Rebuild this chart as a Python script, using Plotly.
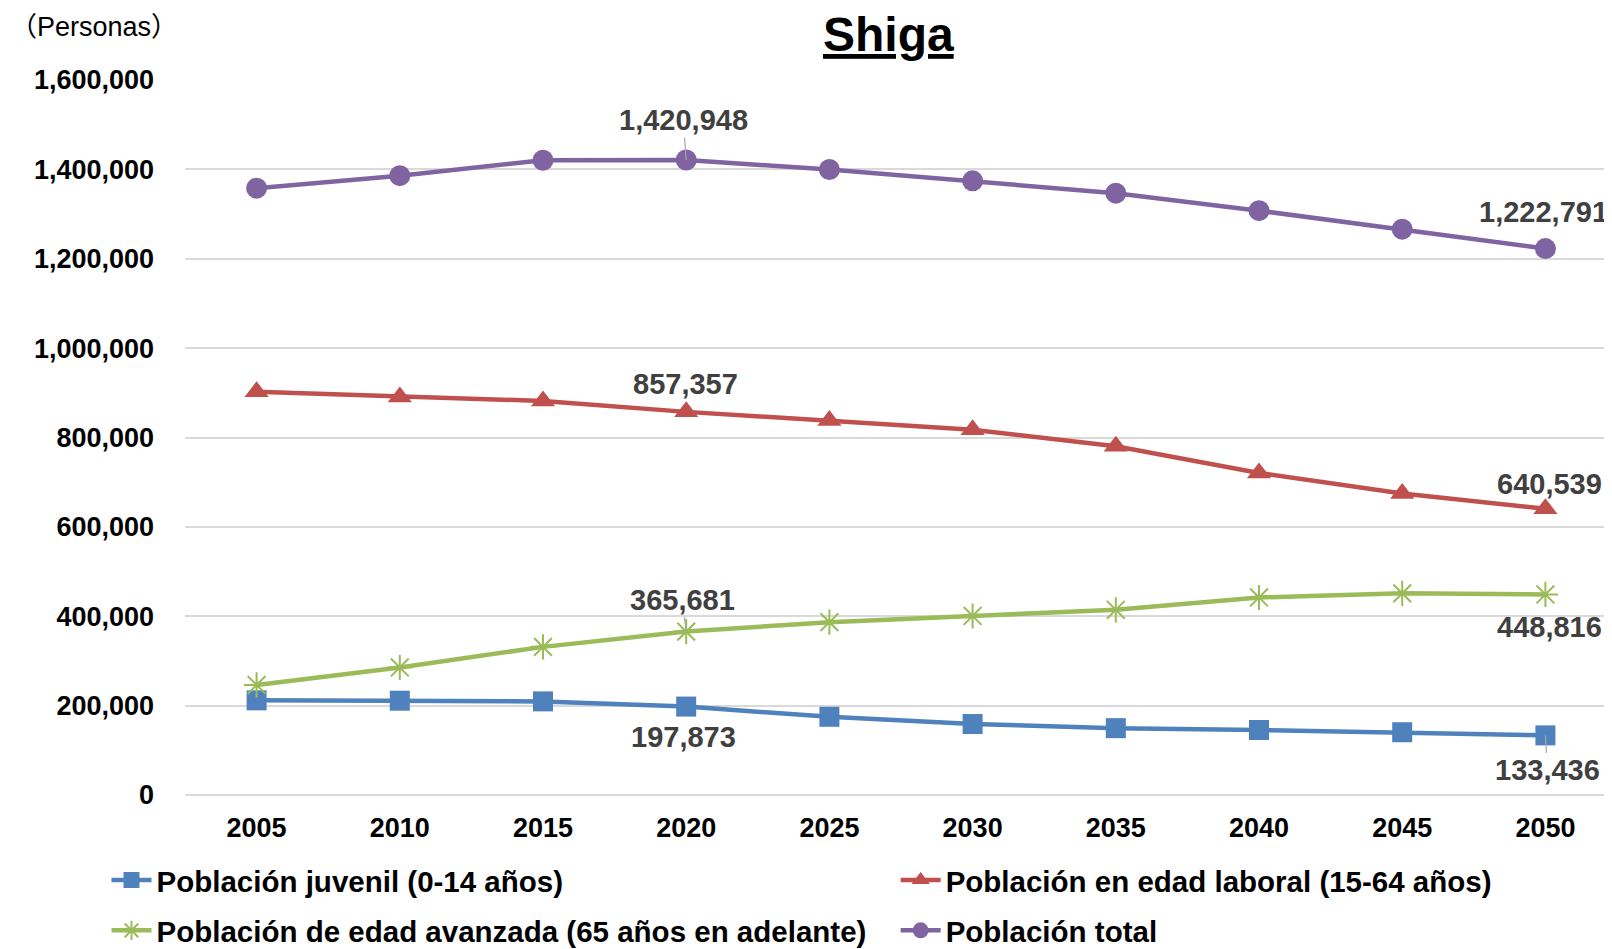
import plotly.graph_objects as go

years = ["2005", "2010", "2015", "2020", "2025", "2030", "2035", "2040", "2045", "2050"]
juvenil = [211800, 211000, 209500, 197873, 175000, 158800, 149600, 145500, 140400, 133436]
laboral = [902400, 890900, 881700, 857357, 838000, 817300, 780400, 720600, 674500, 640539]
avanzada = [246300, 285500, 331500, 365681, 386800, 400600, 414400, 442000, 451200, 448816]
total = [1358000, 1385900, 1420400, 1420948, 1399700, 1374400, 1346800, 1307600, 1266200, 1222791]

names = ["Población juvenil (0-14 años)", "Población en edad laboral (15-64 años)",
         "Población de edad avanzada (65 años en adelante)", "Población total"]
y_ticks = [0, 200000, 400000, 600000, 800000, 1000000, 1200000, 1400000, 1600000]

FONT = "Liberation Sans, Arial, sans-serif"
fig = go.Figure()
fig.add_trace(go.Scatter(x=years, y=juvenil, name=names[0], mode="lines+markers",
                         line=dict(color="#4F81BD", width=4.5), legendgroup="g1",
                         marker=dict(symbol="square", size=20, color="#4F81BD"), legend="legend"))
fig.add_trace(go.Scatter(x=years, y=laboral, name=names[1], mode="lines+markers",
                         line=dict(color="#C0504D", width=4.5), legendgroup="g2",
                         marker=dict(symbol="triangle-up", size=21, color="#C0504D"), legend="legend2"))
fig.add_trace(go.Scatter(x=years, y=avanzada, name=names[2], mode="lines+markers",
                         line=dict(color="#9BBB59", width=4.5), legendgroup="g3",
                         marker=dict(symbol="asterisk-open", size=21, color="#9BBB59",
                                     line=dict(color="#9BBB59", width=2)), legend="legend"))
fig.add_trace(go.Scatter(x=years, y=total, name=names[3], mode="lines+markers",
                         line=dict(color="#8064A2", width=4.5), legendgroup="g4",
                         marker=dict(symbol="circle", size=21, color="#8064A2"), legend="legend2"))

lab_font = dict(family=FONT, size=29, color="#404040", weight="bold")

def label(series, idx, dx, dy, arrow=False):
    v = series[idx]
    txt = f"{v:,}"
    if arrow:
        fig.add_annotation(x=idx, y=v, text=txt, showarrow=True, arrowhead=0,
                           arrowcolor="#A6A6A6", arrowwidth=1.2, ax=dx, ay=dy,
                           standoff=0, font=lab_font)
    else:
        fig.add_annotation(x=idx, y=v, text=txt, showarrow=False,
                           xshift=dx, yshift=-dy, font=lab_font)

i2020 = years.index("2020")
i2050 = years.index("2050")
label(total, i2020, -3, -40, arrow=True)
label(total, i2050, -2, -37)
label(laboral, i2020, -1, -28)
label(laboral, i2050, 4, -25)
label(avanzada, i2020, -4, -32, arrow=True)
label(avanzada, i2050, 4, 33)
label(juvenil, i2020, -3, 30)
label(juvenil, i2050, 2, 35, arrow=True)

fig.add_annotation(xref="paper", yref="paper", x=-0.1238, y=1.074, xanchor="left", yanchor="middle",
                   text="（Personas）", showarrow=False,
                   font=dict(family="Liberation Sans, Noto Sans CJK JP, sans-serif", size=27, color="#000000"))
fig.add_annotation(xref="paper", yref="paper", x=0.493, y=1.063, xanchor="center", yanchor="middle",
                   text="<u>Shiga</u>", showarrow=False,
                   font=dict(family=FONT, size=48, color="#000000", weight="bold"))

leg_font = dict(family=FONT, size=29.5, color="#000000", weight="bold")
fig.update_layout(
    width=1604, height=941,
    margin=dict(l=177, r=0, t=72, b=154, autoexpand=False),
    paper_bgcolor="white", plot_bgcolor="white",
    legend=dict(x=-0.055, y=-0.083, xanchor="left", yanchor="top", orientation="v",
                font=leg_font, bgcolor="rgba(0,0,0,0)", tracegroupgap=9, itemwidth=40),
    legend2=dict(x=0.498, y=-0.083, xanchor="left", yanchor="top", orientation="v",
                 font=leg_font, bgcolor="rgba(0,0,0,0)", tracegroupgap=9, itemwidth=40),
    xaxis=dict(type="category", range=[-0.5, 9.465], showgrid=False, showline=False,
               zeroline=False, ticks="", ticklabelstandoff=14,
               tickfont=dict(family=FONT, size=27, color="#000000", weight="bold")),
    yaxis=dict(range=[0, 1600000], tickvals=y_ticks, ticktext=[f"{v:,}" for v in y_ticks],
               showgrid=True, gridcolor="#D9D9D9", gridwidth=1.5, zeroline=True,
               zerolinecolor="#D9D9D9", zerolinewidth=1.5, showline=False, ticks="",
               ticklabelstandoff=30,
               tickfont=dict(family=FONT, size=27, color="#000000", weight="bold")),
    showlegend=True,
)

fig.write_html("out.html")
